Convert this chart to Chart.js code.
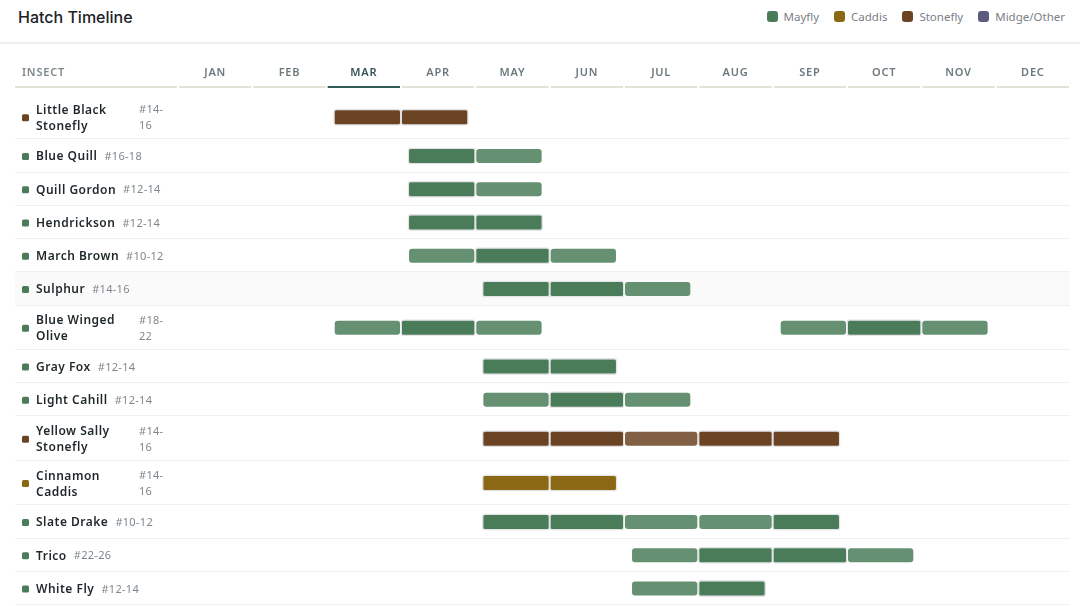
<!DOCTYPE html>
<html>
<head>
<meta charset="utf-8">
<title>Hatch Timeline</title>
<script src="https://cdn.jsdelivr.net/npm/chart.js@4.4.1/dist/chart.umd.min.js"></script>
<style>
  html, body { margin: 0; padding: 0; background: #fff; }
  body { width: 1080px; height: 606px; overflow: hidden; font-family: 'Noto Sans', sans-serif; }
  .top { position: relative; height: 42px; border-bottom: 2px solid #eeeeee; }
  .top h1 { position: absolute; left: 18px; top: 7px; margin: 0; font: 500 16px Inter, sans-serif; color: #1d2227; }
  .legend { position: absolute; right: 15px; top: 9px; display: flex; gap: 15px; font: 11.5px 'Noto Sans', sans-serif; color: #7a8088; }
  .legend span { display: flex; align-items: center; gap: 6px; }
  .legend i { display: inline-block; width: 11px; height: 11px; border-radius: 3px; }
  #wrap { position: relative; width: 1080px; height: 562px; }
</style>
</head>
<body>
<div class="top">
  <h1>Hatch Timeline</h1>
  <div class="legend" id="legend"></div>
</div>
<div id="wrap"><canvas id="hatchChart" width="1080" height="562"></canvas></div>

<script>
const MONTHS = ['JAN', 'FEB', 'MAR', 'APR', 'MAY', 'JUN', 'JUL', 'AUG', 'SEP', 'OCT', 'NOV', 'DEC'];
const CURRENT_MONTH = 'MAR';

const INSECT_TYPES = ['Mayfly', 'Caddis', 'Stonefly', 'Midge/Other'];
const TYPE_COLORS = ['#4a7c59', '#8b6914', '#6b4423', '#5b5b7e'];

const INSECTS = [
  'Little Black Stonefly', 'Blue Quill', 'Quill Gordon', 'Hendrickson', 'March Brown',
  'Sulphur', 'Blue Winged Olive', 'Gray Fox', 'Light Cahill', 'Yellow Sally Stonefly',
  'Cinnamon Caddis', 'Slate Drake', 'Trico', 'White Fly'
];
const HOOK_SIZES = [
  '#14-16', '#16-18', '#12-14', '#12-14', '#10-12',
  '#14-16', '#18-22', '#12-14', '#12-14', '#14-16',
  '#14-16', '#10-12', '#22-26', '#12-14'
];
const INSECT_KIND = [
  'Stonefly', 'Mayfly', 'Mayfly', 'Mayfly', 'Mayfly',
  'Mayfly', 'Mayfly', 'Mayfly', 'Mayfly', 'Stonefly',
  'Caddis', 'Mayfly', 'Mayfly', 'Mayfly'
];
// per month, JAN..DEC: 0 = none, 1 = hatching, 2 = peak
const ACTIVITY = [
  [0, 0, 2, 2, 0, 0, 0, 0, 0, 0, 0, 0],
  [0, 0, 0, 2, 1, 0, 0, 0, 0, 0, 0, 0],
  [0, 0, 0, 2, 1, 0, 0, 0, 0, 0, 0, 0],
  [0, 0, 0, 2, 2, 0, 0, 0, 0, 0, 0, 0],
  [0, 0, 0, 1, 2, 1, 0, 0, 0, 0, 0, 0],
  [0, 0, 0, 0, 2, 2, 1, 0, 0, 0, 0, 0],
  [0, 0, 1, 2, 1, 0, 0, 0, 1, 2, 1, 0],
  [0, 0, 0, 0, 2, 2, 0, 0, 0, 0, 0, 0],
  [0, 0, 0, 0, 1, 2, 1, 0, 0, 0, 0, 0],
  [0, 0, 0, 0, 2, 2, 1, 2, 2, 0, 0, 0],
  [0, 0, 0, 0, 2, 2, 0, 0, 0, 0, 0, 0],
  [0, 0, 0, 0, 2, 2, 1, 1, 2, 0, 0, 0],
  [0, 0, 0, 0, 0, 0, 1, 2, 2, 1, 0, 0],
  [0, 0, 0, 0, 0, 0, 1, 2, 0, 0, 0, 0]
];
const HOVER_ROW = 'Sulphur';

// ---- styling ----
const NAME_FONT = "600 12px 'Noto Sans', sans-serif";
const SIZE_FONT = "11px 'Noto Sans', sans-serif";
const HEAD_FONT = "600 11px 'Noto Sans', sans-serif";
const LABEL_X = 36;
const WRAP_LIMIT = 135;
const NAME_MAX = 92;
const WRAPPED_SIZE_X = 139;
const TWO_LINE_ROW = 1.336;

function alpha(hex, a) {
  const n = parseInt(hex.slice(1), 16);
  return `rgba(${n >> 16}, ${(n >> 8) & 255}, ${n & 255}, ${a})`;
}
function colorOf(kind) { return TYPE_COLORS[INSECT_TYPES.indexOf(kind)]; }

// legend
document.getElementById('legend').innerHTML = INSECT_TYPES
  .map((t, i) => `<span><i style="background:${TYPE_COLORS[i]}"></i>${t}</span>`).join('');

// row layout from label wrapping
const measure = document.createElement('canvas').getContext('2d');
function textWidth(txt, font) {
  measure.font = font;
  measure.letterSpacing = '0.5px';
  return measure.measureText(txt).width;
}
function wrapName(name) {
  const words = name.split(' ');
  const lines = [];
  let cur = '';
  words.forEach(w => {
    const test = cur ? cur + ' ' + w : w;
    if (cur && textWidth(test, NAME_FONT) > NAME_MAX) { lines.push(cur); cur = w; }
    else cur = test;
  });
  lines.push(cur);
  return lines;
}

let cursor = 0;
const rows = INSECTS.map((name, i) => {
  const single = textWidth(name, NAME_FONT) + 7 + textWidth(HOOK_SIZES[i], SIZE_FONT);
  const wrapped = single > WRAP_LIMIT;
  const h = wrapped ? TWO_LINE_ROW : 1;
  const row = {
    name, size: HOOK_SIZES[i], kind: INSECT_KIND[i], wrapped,
    nameLines: wrapped ? wrapName(name) : [name],
    sizeLines: wrapped ? [HOOK_SIZES[i].slice(0, 4), HOOK_SIZES[i].slice(4)] : [HOOK_SIZES[i]],
    top: cursor, bottom: cursor + h, center: cursor + h / 2
  };
  cursor += h;
  return row;
});
const TOTAL = cursor;

// bars: one month cell each; runs get extra inset at their ends
const GAP = 0.013, EDGE = 0.095, RING = 0.02;
const datasets = [];
INSECT_TYPES.slice(0, 3).forEach(kind => {
  [2, 1].forEach(level => {
    const data = [];
    rows.forEach((r, ri) => {
      if (r.kind !== kind) return;
      const act = ACTIVITY[ri];
      act.forEach((v, m) => {
        if (v !== level) return;
        let a = m + GAP, b = m + 1 - GAP;
        if (!act[m - 1]) a += EDGE;
        if (!act[m + 1]) b -= EDGE;
        if (level === 2) { a -= RING; b += RING; }
        data.push({ x: [a, b], y: r.center });
      });
    });
    const base = colorOf(kind);
    datasets.push({
      label: kind + (level === 2 ? ' peak' : ''),
      data,
      backgroundColor: level === 2 ? base : alpha(base, 0.85),
      borderColor: '#e4e4e8',
      borderWidth: level === 2 ? 1.5 : 0,
      borderRadius: 3,
      borderSkipped: false,
      grouped: false,
      maxBarThickness: level === 2 ? 17 : 14
    });
  });
});

const timelinePlugin = {
  id: 'timeline',
  beforeDatasetsDraw(chart) {
    const { ctx, chartArea: area, scales: { x, y } } = chart;
    ctx.save();
    rows.forEach(r => {
      const t = y.getPixelForValue(r.top), b = y.getPixelForValue(r.bottom);
      if (r.name === HOVER_ROW) {
        ctx.fillStyle = '#fafafa';
        ctx.fillRect(15, t, area.right - 15, b - t);
      }
      ctx.fillStyle = '#f0f0f0';
      ctx.fillRect(15, Math.round(b) - 1, area.right - 15, 1);
    });

    // header row
    ctx.font = HEAD_FONT;
    ctx.letterSpacing = '0.8px';
    ctx.textBaseline = 'middle';
    ctx.textAlign = 'left';
    ctx.fillStyle = '#7d868b';
    ctx.fillText('INSECT', 22, 29);
    ctx.fillStyle = '#e4e1d9';
    ctx.fillRect(15, 42, area.left - 16, 2);
    ctx.textAlign = 'center';
    MONTHS.forEach((m, i) => {
      const l = x.getPixelForValue(i), r = x.getPixelForValue(i + 1);
      const current = m === CURRENT_MONTH;
      ctx.fillStyle = current ? '#34545a' : '#6d797e';
      ctx.fillText(m, x.getPixelForValue(i + 0.5), 29);
      ctx.fillStyle = current ? '#2f5d55' : '#e4e1d9';
      ctx.fillRect(l + 1, 42, r - l - 2, 2);
    });
    ctx.restore();
  },
  afterDatasetsDraw(chart) {
    const { ctx, scales: { y } } = chart;
    ctx.save();
    ctx.textBaseline = 'middle';
    ctx.textAlign = 'left';
    rows.forEach(r => {
      const cy = y.getPixelForValue(r.center) + 1;
      ctx.fillStyle = colorOf(r.kind);
      ctx.beginPath();
      ctx.roundRect(22, cy - 4, 7, 7, 1.5);
      ctx.fill();

      ctx.font = NAME_FONT;
      ctx.letterSpacing = '0.5px';
      ctx.fillStyle = '#1f272b';
      const n = r.nameLines.length;
      r.nameLines.forEach((line, k) => ctx.fillText(line, LABEL_X, cy + (k - (n - 1) / 2) * 16));

      const sx = r.wrapped ? WRAPPED_SIZE_X : LABEL_X + ctx.measureText(r.name).width + 7;
      ctx.font = SIZE_FONT;
      ctx.letterSpacing = '0.3px';
      ctx.fillStyle = '#7f878d';
      const s = r.sizeLines.length;
      r.sizeLines.forEach((line, k) => ctx.fillText(line, sx, cy + (k - (s - 1) / 2) * 16));
    });
    ctx.restore();
  }
};

const ctx = document.getElementById('hatchChart').getContext('2d');
new Chart(ctx, {
  type: 'bar',
  data: { datasets },
  options: {
    indexAxis: 'y',
    responsive: false,
    animation: false,
    devicePixelRatio: 1,
    layout: { padding: { left: 178, right: 10, top: 51, bottom: 1 } },
    scales: {
      x: { type: 'linear', min: 0, max: MONTHS.length, offset: false, display: false },
      y: { type: 'linear', min: 0, max: TOTAL, reverse: true, offset: false, display: false }
    },
    plugins: {
      legend: { display: false },
      tooltip: { enabled: false }
    }
  },
  plugins: [timelinePlugin]
});
</script>
</body>
</html>
